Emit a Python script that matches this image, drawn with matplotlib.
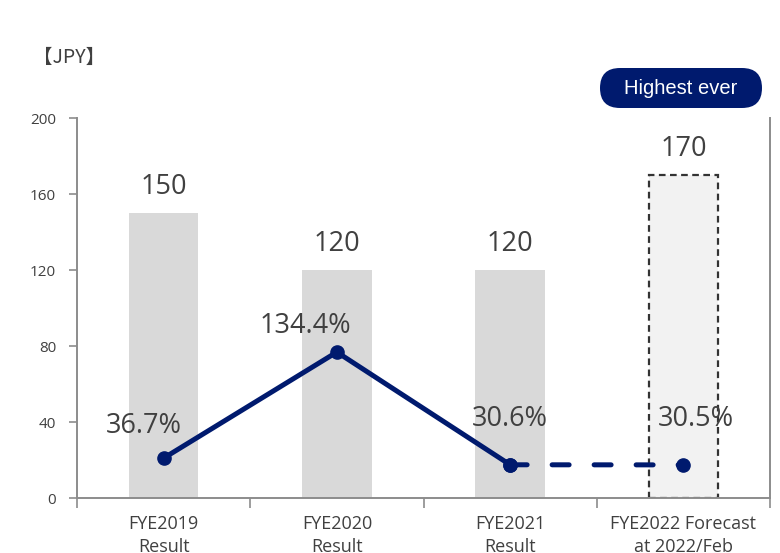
import matplotlib
matplotlib.use("Agg")
import matplotlib.pyplot as plt
from matplotlib.patches import FancyBboxPatch

plt.rcParams['font.family'] = ['Open Sans', 'Noto Sans CJK JP', 'DejaVu Sans']

categories = ["FYE2019\nResult", "FYE2020\nResult", "FYE2021\nResult", "FYE2022 Forecast\nat 2022/Feb"]
dividends = [150, 120, 120, 170]
payout = [36.7, 134.4, 30.6, 30.5]
payout_labels = ["36.7%", "134.4%", "30.6%", "30.5%"]
yticks = [0, 40, 80, 120, 160, 200]

navy = "#001A6E"
txt = "#404040"
spine = "#8C8C8C"

fig = plt.figure(figsize=(7.8, 5.53), dpi=100)
ax = fig.add_axes([77/780, 55/553, (770-77)/780, 380/553])
x = list(range(len(categories)))

for i, v in enumerate(dividends):
    if i < 3:
        ax.bar(i, v, width=0.4, color="#D9D9D9", zorder=1)
    else:
        ax.bar(i, v, width=0.4, color="#F2F2F2", edgecolor="#333333",
               linewidth=1.6, linestyle=(0, (3, 2)), zorder=1)
    ax.annotate(str(v), (i, v), xytext=(0, 19), textcoords="offset points",
                ha="center", va="center", fontsize=19.5, color=txt)

ax.set_xlim(-0.5, 3.5)
ax.set_ylim(0, 200)
ax.set_yticks(yticks)
ax.set_xticks(x)
ax.set_xticklabels(categories, fontsize=13, color=txt, linespacing=1.4)
ax.set_xticks([-0.5, 0.5, 1.5, 2.5, 3.5], minor=True)
ax.tick_params(axis="x", which="major", length=0, pad=12)
ax.tick_params(axis="x", which="minor", length=7, color=spine, width=1.2)
ax.tick_params(axis="y", length=6, color=spine, width=1.2, labelsize=11, labelcolor=txt, pad=9)
ax.spines["top"].set_visible(False)
for s in ["left", "bottom", "right"]:
    ax.spines[s].set_color(spine)
    ax.spines[s].set_linewidth(1.4)

ax2 = ax.twinx()
ax2.set_ylim(0, 350)
ax2.set_yticks([])
for s in ax2.spines.values():
    s.set_visible(False)
lw = 3.6
ax2.plot(x[:3], payout[:3], color=navy, linewidth=lw, marker="o",
         markersize=9.5, solid_capstyle="round", solid_joinstyle="round", zorder=3)
ax2.plot(x[2:], payout[2:], color=navy, linewidth=lw, linestyle=(0, (3.4, 5)),
         dash_capstyle="round", zorder=3)
ax2.plot(x[2:], payout[2:], color=navy, linestyle="none", marker="o",
         markersize=9.5, zorder=4)

offsets = [(-14, 23), (-23, 19), (0, 33), (9, 33)]
for i, (p, lab) in enumerate(zip(payout, payout_labels)):
    ax2.annotate(lab, (i, p), xytext=offsets[i], textcoords="offset points",
                 ha="center", va="center", fontsize=19.5, color=txt)

fig.text(33/780, 1 - 57/553, "【JPY】", fontsize=14, color=txt, va="center",
         ha="left", family=['Noto Sans CJK JP', 'DejaVu Sans'])

# badge in inch coordinates
bx0, by0, bw, bh = 600/100, (553-108)/100, 162/100, 40/100
badge = FancyBboxPatch((bx0, by0), bw, bh,
                       boxstyle="round,pad=0,rounding_size=%f" % (bh/2),
                       transform=fig.dpi_scale_trans, facecolor=navy, edgecolor="none")
fig.patches.append(badge)
fig.text(681/780, 1 - 88/553, "Highest ever", fontsize=14.5, color="white",
         ha="center", va="center", family=['Liberation Sans', 'DejaVu Sans'])

fig.savefig("out.png", dpi=100)
